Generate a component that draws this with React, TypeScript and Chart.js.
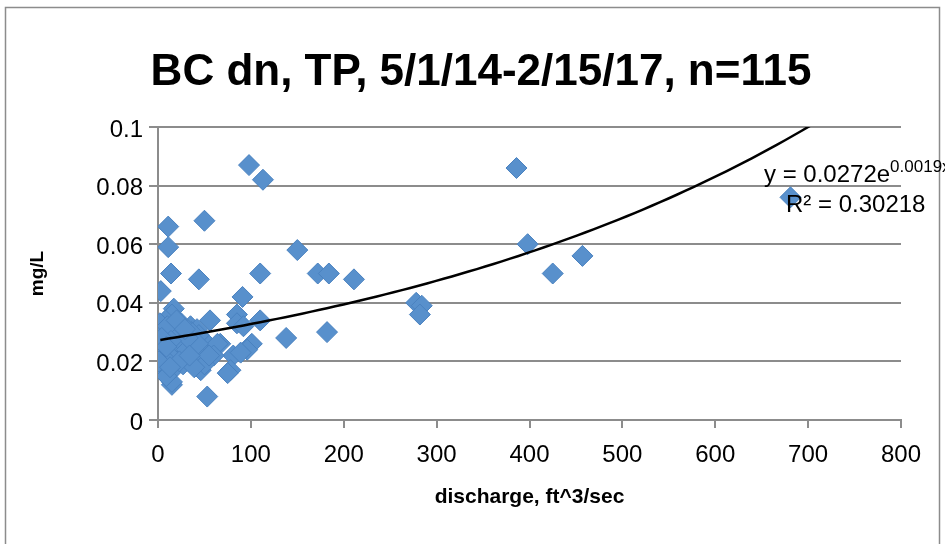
import React, { useEffect, useRef } from "react";
import { Chart, registerables } from "chart.js";

Chart.register(...registerables);

// ---- data ----
const discharge = [
  98, 113, 386, 11, 50, 11, 14, 3, 44, 150,
  110, 172, 184, 211, 91, 85, 110, 56, 138, 182,
  278, 284, 282, 398, 425, 457, 681, 53, 15, 101,
  96, 67, 81, 78, 85, 92, 89, 75, 17, 15,
  8, 3, 0.5, 15, 35, 42, 24, 53, 46, 24,
  3, 3, 33, 46, 6, 20, 35, 64, 3, 6,
  15, 35, 60, 40, 2, 4, 5, 7, 9, 10,
  12, 13, 18, 22, 26, 28, 30, 38, 40, 44,
  48, 1, 2, 4, 6, 8, 11, 16, 19, 21,
  27, 31, 36, 43, 50, 5, 9, 12, 25, 32,
  39, 55, 1, 2, 7, 10, 14, 20, 23, 29,
  34, 1, 4, 9, 13,
];
const totalP = [
  0.087, 0.082, 0.086, 0.066, 0.068, 0.059, 0.05, 0.044, 0.048, 0.058,
  0.05, 0.05, 0.05, 0.048, 0.042, 0.036, 0.034, 0.034, 0.028, 0.03,
  0.04, 0.039, 0.036, 0.06, 0.05, 0.056, 0.076, 0.008, 0.012, 0.026,
  0.024, 0.026, 0.022, 0.017, 0.033, 0.032, 0.023, 0.016, 0.038, 0.036,
  0.034, 0.032, 0.029, 0.032, 0.032, 0.031, 0.03, 0.026, 0.024, 0.023,
  0.021, 0.018, 0.02, 0.017, 0.025, 0.025, 0.025, 0.026, 0.019, 0.016,
  0.013, 0.02, 0.022, 0.028, 0.027, 0.024, 0.022, 0.03, 0.028, 0.02,
  0.026, 0.023, 0.028, 0.027, 0.026, 0.022, 0.029, 0.027, 0.023, 0.029,
  0.021, 0.03, 0.023, 0.017, 0.027, 0.019, 0.024, 0.021, 0.018, 0.031,
  0.019, 0.024, 0.03, 0.026, 0.019, 0.031, 0.015, 0.029, 0.033, 0.028,
  0.018, 0.022, 0.026, 0.033, 0.021, 0.032, 0.027, 0.034, 0.02, 0.031,
  0.022, 0.02, 0.028, 0.025, 0.018,
];

const xTickLabels = ["0", "100", "200", "300", "400", "500", "600", "700", "800"];
const yTickLabels = ["0", "0.02", "0.04", "0.06", "0.08", "0.1"];

// exponential trendline y = a * e^(b x)
const trendA = 0.0272;
const trendB = 0.00186;
const trendStart = 2.5;
const trendEnd = 720;

const titleText = "BC dn, TP, 5/1/14-2/15/17, n=115";
const xAxisTitle = "discharge, ft^3/sec";
const yAxisTitle = "mg/L";
const equationMain = "y = 0.0272e";
const equationExp = "0.0019x";
const r2Text = "R\u00B2 = 0.30218";

const FONT = '"Liberation Sans", Arial, sans-serif';

export default function App() {
  const ref = useRef<HTMLCanvasElement | null>(null);

  useEffect(() => {
    const canvas = ref.current;
    if (!canvas) return;

    const points = discharge.map((x, i) => ({ x, y: totalP[i] }));
    const trend: { x: number; y: number }[] = [];
    const steps = 80;
    for (let i = 0; i <= steps; i++) {
      const x = trendStart + ((trendEnd - trendStart) * i) / steps;
      trend.push({ x, y: trendA * Math.exp(trendB * x) });
    }

    const decor = {
      id: "decor",
      beforeDraw(chart: any) {
        const ctx = chart.ctx;
        ctx.save();
        ctx.fillStyle = "#ffffff";
        ctx.fillRect(0, 0, chart.width, chart.height);
        ctx.strokeStyle = "#8c8c8c";
        ctx.lineWidth = 1.5;
        ctx.strokeRect(5.5, 7.5, 934, 600);
        ctx.restore();
      },
      afterDraw(chart: any) {
        const ctx = chart.ctx;
        ctx.save();
        ctx.fillStyle = "#000000";
        ctx.textBaseline = "alphabetic";
        ctx.textAlign = "center";
        ctx.font = `bold 44px ${FONT}`;
        ctx.fillText(titleText, 481, 85);

        ctx.textAlign = "left";
        ctx.font = `24px ${FONT}`;
        ctx.fillText(equationMain, 764, 182);
        const w = ctx.measureText(equationMain).width;
        ctx.font = `17px ${FONT}`;
        ctx.fillText(equationExp, 764 + w, 172);
        ctx.font = `24px ${FONT}`;
        ctx.fillText(r2Text, 786, 212);
        ctx.restore();
      },
    };

    const chart = new Chart(canvas, {
      type: "scatter",
      data: {
        datasets: [
          {
            label: "TP",
            data: points,
            pointStyle: "rectRot",
            pointRadius: 10.5,
            pointHoverRadius: 10.5,
            backgroundColor: "#5890cc",
            borderColor: "#4a82c0",
            borderWidth: 1,
            showLine: false,
            order: 2,
          },
          {
            label: "Expon. trend",
            type: "line",
            data: trend,
            borderColor: "#000000",
            borderWidth: 2.5,
            pointRadius: 0,
            fill: false,
            tension: 0,
            order: 1,
          } as any,
        ],
      },
      options: {
        responsive: false,
        animation: false,
        devicePixelRatio: 1,
        layout: { padding: { left: 0, right: 44, top: 127, bottom: 0 } },
        plugins: {
          legend: { display: false },
          title: { display: false },
          tooltip: { enabled: false },
        },
        scales: {
          x: {
            type: "linear",
            min: 0,
            max: 800,
            afterFit: (s: any) => {
              s.height = 124;
            },
            afterBuildTicks: (s: any) => {
              s.ticks = xTickLabels.map((t) => ({ value: Number(t) }));
            },
            ticks: {
              autoSkip: false,
              maxRotation: 0,
              padding: 13,
              color: "#000000",
              font: { family: FONT, size: 24 },
              callback: (v: any, i: number) => xTickLabels[i],
            },
            grid: {
              display: true,
              drawOnChartArea: false,
              drawTicks: true,
              tickLength: 8,
              color: "#8c8c8c",
              lineWidth: 2,
            },
            border: { display: true, color: "#8c8c8c", width: 2 },
            title: {
              display: true,
              text: xAxisTitle,
              color: "#000000",
              font: { family: FONT, size: 21, weight: "bold" },
              padding: { top: 0, bottom: 34 },
            },
          },
          y: {
            type: "linear",
            min: 0,
            max: 0.1,
            afterFit: (s: any) => {
              s.width = 158;
            },
            afterBuildTicks: (s: any) => {
              s.ticks = yTickLabels.map((t) => ({ value: Number(t) }));
            },
            ticks: {
              autoSkip: false,
              padding: 6,
              labelOffset: 3,
              color: "#000000",
              font: { family: FONT, size: 24 },
              callback: (v: any, i: number) => yTickLabels[i],
            },
            grid: {
              display: true,
              drawOnChartArea: true,
              drawTicks: true,
              tickLength: 9,
              color: "#8c8c8c",
              lineWidth: 2,
            },
            border: { display: true, color: "#8c8c8c", width: 2 },
            title: {
              display: true,
              text: yAxisTitle,
              color: "#000000",
              font: { family: FONT, size: 19, weight: "bold" },
              padding: { top: 26, bottom: 0 },
            },
          },
        },
      },
      plugins: [decor],
    });

    return () => chart.destroy();
  }, []);

  return (
    <div style={{ position: "fixed", left: 0, top: 0, width: 945, height: 544, background: "#fff" }}>
      <canvas ref={ref} width={945} height={544} style={{ display: "block", width: 945, height: 544 }} />
    </div>
  );
}
